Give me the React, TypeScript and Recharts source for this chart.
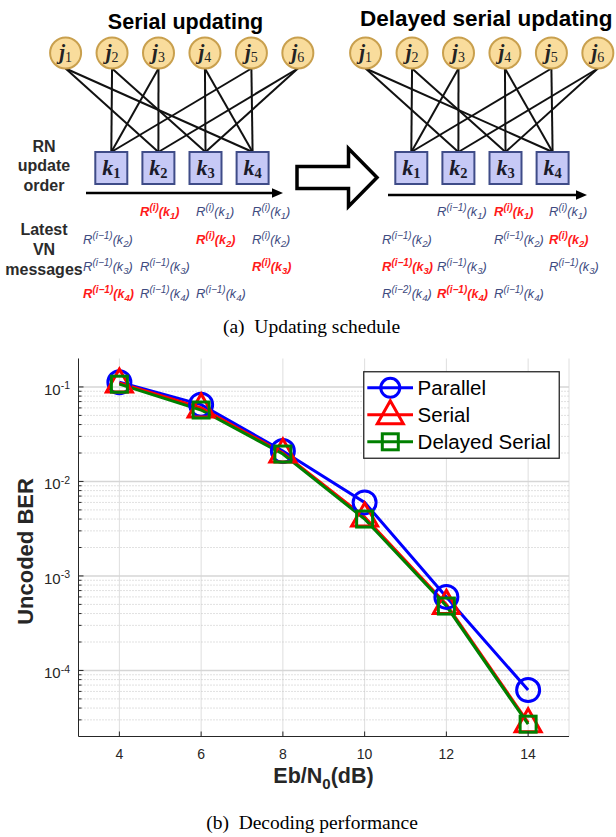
import React from 'react';
import { LineChart, Line, XAxis, YAxis, CartesianGrid, ReferenceLine, Legend } from 'recharts';

// ---------------- chart data ----------------
const snrDb = [4, 6, 8, 10, 12, 14];
const berParallel = [0.112, 0.065, 0.021, 0.006, 0.0006, 0.000062];
const berSerial = [0.11, 0.06, 0.02, 0.0042, 0.0005, 0.000028];
const berDelayedSerial = [0.107, 0.057, 0.0195, 0.004, 0.00048, 0.000027];

const seriesNames = ['Parallel', 'Serial', 'Delayed Serial'];
const seriesKeys = ['parallel', 'serial', 'delayed'];
const seriesColors = ['#0000ff', '#ff0000', '#008000'];
const seriesMarkers = ['circle', 'triangle', 'square'];

const xTicks = [4, 6, 8, 10, 12, 14];
const xDomain = [3, 15];
const yDomain = [2e-5, 0.2];
const yMajorTicks = [1e-4, 1e-3, 1e-2, 1e-1];
const yMajorExponents = ['-4', '-3', '-2', '-1'];
const yMinorTicks = [
  3e-5, 4e-5, 5e-5, 6e-5, 7e-5, 8e-5, 9e-5,
  2e-4, 3e-4, 4e-4, 5e-4, 6e-4, 7e-4, 8e-4, 9e-4,
  2e-3, 3e-3, 4e-3, 5e-3, 6e-3, 7e-3, 8e-3, 9e-3,
  2e-2, 3e-2, 4e-2, 5e-2, 6e-2, 7e-2, 8e-2, 9e-2,
];
const yAllTicks = [...yMinorTicks, ...yMajorTicks].sort((a, b) => a - b);

const xAxisTitle = 'Eb/N';
const xAxisTitleSub = '0';
const xAxisTitleTail = '(dB)';
const yAxisTitle = 'Uncoded BER';
const captionA = '(a)\u00A0\u00A0Updating schedule';
const captionB = '(b)\u00A0\u00A0Decoding performance';

// ---------------- diagram data ----------------
const diagramTitles = ['Serial updating', 'Delayed serial updating'];
const userNodes = ['1', '2', '3', '4', '5', '6'];
const resourceNodes = ['1', '2', '3', '4'];
// [user index, resource index]
const factorEdges: [number, number][] = [
  [1, 0], [2, 0], [4, 0],
  [0, 1], [2, 1], [5, 1],
  [1, 2], [3, 2], [5, 2],
  [0, 3], [3, 3], [4, 3],
];
const orderLabel = ['RN', 'update', 'order'];
const messagesLabel = ['Latest', 'VN', 'messages'];
// per column: [row (k index), superscript, highlighted]
type Msg = [number, string, boolean];
const serialMessages: Msg[][] = [
  [[1, 'i\u22121', false], [2, 'i\u22121', false], [3, 'i\u22121', true]],
  [[0, 'i', true], [2, 'i\u22121', false], [3, 'i\u22121', false]],
  [[0, 'i', false], [1, 'i', true], [3, 'i\u22121', false]],
  [[0, 'i', false], [1, 'i', false], [2, 'i', true]],
];
const delayedMessages: Msg[][] = [
  [[1, 'i\u22121', false], [2, 'i\u22121', true], [3, 'i\u22122', false]],
  [[0, 'i\u22121', false], [2, 'i\u22121', false], [3, 'i\u22121', true]],
  [[0, 'i', true], [1, 'i\u22121', false], [3, 'i\u22121', false]],
  [[0, 'i', false], [1, 'i', true], [2, 'i\u22121', false]],
];

const rows = snrDb.map((x, i) => ({
  snr: x,
  parallel: berParallel[i],
  serial: berSerial[i],
  delayed: berDelayedSerial[i],
}));

const SANS = "'Liberation Sans', Arial, Helvetica, sans-serif";
const SERIF = "'Liberation Serif', 'Times New Roman', serif";
const AXIS_COLOR = '#262626';
const Y_TICK_MARGIN = 8.5;

function Marker({ kind, cx, cy, color, small }: { kind: string; cx: number; cy: number; color: string; small?: boolean }) {
  if (cx == null || cy == null || isNaN(cx) || isNaN(cy)) return null;
  if (kind === 'circle') {
    return <circle cx={cx} cy={cy} r={small ? 9.5 : 11.5} fill="none" stroke={color} strokeWidth={3} />;
  }
  if (kind === 'triangle') {
    const pts = `${cx},${cy - 14} ${cx - 13},${cy + 9} ${cx + 13},${cy + 9}`;
    return <polygon points={pts} fill="none" stroke={color} strokeWidth={3} strokeLinejoin="miter" />;
  }
  return <rect x={cx - 8} y={cy - 8} width={16} height={16} fill="none" stroke={color} strokeWidth={3} />;
}

const LeftTick = (props: any) => {
  const { x, y, payload } = props;
  const v = payload.value;
  const mi = yMajorTicks.indexOf(v);
  const ax = x + Y_TICK_MARGIN;
  return (
    <g>
      <line x1={ax} x2={ax + (mi >= 0 ? 5 : 3)} y1={y} y2={y} stroke={AXIS_COLOR} strokeWidth={1} />
      {mi >= 0 && (
        <text x={x} y={y + 8} textAnchor="end" fontFamily={SANS} fill={AXIS_COLOR}>
          <tspan fontSize={15}>10</tspan>
          <tspan fontSize={10.5} dy={-5.5}>{yMajorExponents[mi]}</tspan>
        </text>
      )}
    </g>
  );
};

const RightTick = (props: any) => {
  const { x, y, payload } = props;
  const isMajor = yMajorTicks.indexOf(payload.value) >= 0;
  return <line x1={x} x2={x - (isMajor ? 5 : 3)} y1={y} y2={y} stroke={AXIS_COLOR} strokeWidth={1} />;
};

const BottomTick = (props: any) => {
  const { x, y, payload } = props;
  return (
    <g>
      <line x1={x} x2={x} y1={y} y2={y - 5} stroke={AXIS_COLOR} strokeWidth={1} />
      <text x={x} y={y + 22.5} textAnchor="middle" fontFamily={SANS} fontSize={14} fill={AXIS_COLOR}>
        {payload.value}
      </text>
    </g>
  );
};

const TopTick = (props: any) => {
  const { x, y } = props;
  return <line x1={x} x2={x} y1={y} y2={y + 5} stroke={AXIS_COLOR} strokeWidth={1} />;
};

const LegendBox = () => {
  const w = 197;
  const h = 88;
  return (
    <svg width={w} height={h} style={{ display: 'block' }}>
      <rect x={0.75} y={0.75} width={w - 1.5} height={h - 1.5} fill="#ffffff" stroke={AXIS_COLOR} strokeWidth={1.3} />
      {seriesNames.map((name, i) => {
        const cy = 16.8 + 27 * i;
        return (
          <g key={name}>
            <line x1={4.3} x2={50} y1={cy} y2={cy} stroke={seriesColors[i]} strokeWidth={3} />
            <Marker kind={seriesMarkers[i]} cx={27.3} cy={cy} color={seriesColors[i]} small />
            <text x={54.6} y={cy + 7.5} fontFamily={SANS} fontSize={20.5} fill="#000">
              {name}
            </text>
          </g>
        );
      })}
    </svg>
  );
};

function MessageLabel({ x, y, sup, k, red }: { x: number; y: number; sup: string; k: string; red: boolean }) {
  return (
    <text
      x={x}
      y={y}
      fontFamily={SANS}
      fontStyle="italic"
      fontWeight={red ? 'bold' : 'normal'}
      fill={red ? '#ff1a1a' : '#3d4a80'}
    >
      <tspan fontSize={13}>R</tspan>
      <tspan fontSize={10} dy={-5}>({sup})</tspan>
      <tspan fontSize={12.5} dy={5}>(k</tspan>
      <tspan fontSize={9.5} dy={3}>{k}</tspan>
      <tspan fontSize={12.5} dy={-3}>)</tspan>
    </text>
  );
}

function DiagramGroup({ g }: { g: number }) {
  const ox = g * 300;
  const ux = (i: number) => ox + 65.6 + 46.45 * i;
  const uy = 53;
  const rx = (i: number) => ox + 111.3 + 47.1 * i;
  const ry = 168;
  const colX = g === 0 ? [83, 140, 196, 252] : [382, 437, 494, 549];
  const rowY = [216, 243.5, 271, 297.5];
  const msgs = g === 0 ? serialMessages : delayedMessages;
  const arrowY = g === 0 ? 193 : 195;
  const arrowX0 = g === 0 ? 86 : 388;
  const arrowX1 = g === 0 ? 283 : 587;
  return (
    <g>
      {factorEdges.map(([u, r], i) => (
        <line key={i} x1={ux(u)} y1={uy + 15.5} x2={rx(r)} y2={ry - 16} stroke="#111" strokeWidth={2} />
      ))}
      {userNodes.map((n, i) => (
        <g key={'u' + i}>
          <circle cx={ux(i)} cy={uy} r={15.5} fill="#f9dc9c" stroke="#c9a04e" strokeWidth={2} />
          <text x={ux(i)} y={uy + 6} textAnchor="middle" fontFamily={SERIF} fill="#222">
            <tspan fontSize={21} fontStyle="italic" fontWeight="bold">j</tspan>
            <tspan fontSize={14} dy={3}>{n}</tspan>
          </text>
        </g>
      ))}
      {resourceNodes.map((n, i) => (
        <g key={'r' + i}>
          <rect x={rx(i) - 16} y={ry - 16} width={32} height={32} fill="#c6c9f6" stroke="#3f4c88" strokeWidth={2} />
          <text x={rx(i)} y={ry + 7} textAnchor="middle" fontFamily={SERIF} fill="#1a1a2a">
            <tspan fontSize={22} fontStyle="italic" fontWeight="bold">k</tspan>
            <tspan fontSize={14.5} fontWeight="bold" dy={3}>{n}</tspan>
          </text>
        </g>
      ))}
      <line x1={arrowX0} x2={arrowX1 - 10} y1={arrowY} y2={arrowY} stroke="#000" strokeWidth={2.5} />
      <polygon points={`${arrowX1 - 11},${arrowY - 4.8} ${arrowX1},${arrowY} ${arrowX1 - 11},${arrowY + 4.8}`} fill="#000" />
      {msgs.map((col, c) =>
        col.map(([row, sup, red], j) => (
          <MessageLabel key={`${c}-${j}`} x={colX[c]} y={rowY[row]} sup={sup} k={resourceNodes[row]} red={red} />
        ))
      )}
    </g>
  );
}

function Overlay() {
  return (
    <svg width={616} height={837} style={{ position: 'absolute', left: 0, top: 0, pointerEvents: 'none' }}>
      <text x={185.5} y={28.5} textAnchor="middle" fontFamily={SANS} fontWeight="bold" fontSize={21.5} fill="#000">
        {diagramTitles[0]}
      </text>
      <text x={360} y={25.5} fontFamily={SANS} fontWeight="bold" fontSize={22.5} fill="#000">
        {diagramTitles[1]}
      </text>
      <DiagramGroup g={0} />
      <DiagramGroup g={1} />
      {orderLabel.map((t, i) => (
        <text key={t} x={44} y={151.5 + 19.5 * i} textAnchor="middle" fontFamily={SANS} fontWeight="bold" fontSize={16} fill="#2b2b2b">
          {t}
        </text>
      ))}
      {messagesLabel.map((t, i) => (
        <text key={t} x={44} y={235 + 20 * i} textAnchor="middle" fontFamily={SANS} fontWeight="bold" fontSize={16} fill="#2b2b2b">
          {t}
        </text>
      ))}
      <polygon
        points="297,166.5 348.5,166.5 348.5,148.5 377,177.5 348.5,206.5 348.5,188.5 297,188.5"
        fill="#fff"
        stroke="#000"
        strokeWidth={3.5}
        strokeLinejoin="miter"
      />
      <text x={311.5} y={333} textAnchor="middle" fontFamily={SERIF} fontSize={19.5} fill="#000">
        {captionA}
      </text>
      <text x={33} y={551.5} transform="rotate(-90 33 551.5)" textAnchor="middle" fontFamily={SANS} fontWeight="bold" fontSize={22} fill={AXIS_COLOR}>
        {yAxisTitle}
      </text>
      <text x={323.5} y={782.5} textAnchor="middle" fontFamily={SANS} fontWeight="bold" fontSize={21.5} fill={AXIS_COLOR}>
        <tspan>{xAxisTitle}</tspan>
        <tspan fontSize={15} dy={6}>{xAxisTitleSub}</tspan>
        <tspan dy={-6}>{xAxisTitleTail}</tspan>
      </text>
      <text x={312} y={828.5} textAnchor="middle" fontFamily={SERIF} fontSize={19.5} fill="#000">
        {captionB}
      </text>
    </svg>
  );
}

export default function App() {
  return (
    <div style={{ position: 'absolute', left: 0, top: 0, width: 616, height: 837, background: '#fff' }}>
      <LineChart width={616} height={837} data={rows} margin={{ top: 358.5, right: 47, bottom: 70.5, left: 0 }}>
        <CartesianGrid xAxisId="main" yAxisId="main" horizontal={false} vertical stroke="#dedede" strokeWidth={1} />
        {yMinorTicks.map((v) => (
          <ReferenceLine key={'mn' + v} y={v} xAxisId="main" yAxisId="main" stroke="#c2c2c2" strokeDasharray="1 2" strokeWidth={1} />
        ))}
        {yMajorTicks.map((v) => (
          <ReferenceLine key={'mj' + v} y={v} xAxisId="main" yAxisId="main" stroke="#d6d6d6" strokeWidth={1.5} />
        ))}
        {seriesKeys.map((k, i) => (
          <Line
            key={k}
            xAxisId="main"
            yAxisId="main"
            dataKey={k}
            name={seriesNames[i]}
            type="linear"
            stroke={seriesColors[i]}
            strokeWidth={3}
            isAnimationActive={false}
            dot={(p: any) => (
              <Marker key={`${k}-${p.index}`} kind={seriesMarkers[i]} cx={p.cx} cy={p.cy} color={seriesColors[i]} />
            )}
            activeDot={false}
          />
        ))}
        <XAxis
          xAxisId="main"
          dataKey="snr"
          type="number"
          domain={xDomain}
          ticks={xTicks}
          interval={0}
          allowDataOverflow
          height={30}
          tickSize={0}
          tickMargin={0}
          tickLine={false}
          axisLine={{ stroke: AXIS_COLOR, strokeWidth: 1 }}
          tick={BottomTick}
        />
        <XAxis
          xAxisId="top"
          orientation="top"
          dataKey="snr"
          type="number"
          domain={xDomain}
          ticks={xTicks}
          interval={0}
          allowDataOverflow
          height={0}
          tickSize={0}
          tickMargin={0}
          tickLine={false}
          axisLine={{ stroke: AXIS_COLOR, strokeWidth: 1 }}
          tick={TopTick}
        />
        <YAxis
          yAxisId="main"
          scale="log"
          type="number"
          domain={yDomain}
          ticks={yAllTicks}
          interval={0}
          allowDataOverflow
          width={78.5}
          tickSize={0}
          tickMargin={Y_TICK_MARGIN}
          tickLine={false}
          axisLine={{ stroke: AXIS_COLOR, strokeWidth: 1 }}
          tick={LeftTick}
        />
        <YAxis
          yAxisId="right"
          orientation="right"
          scale="log"
          type="number"
          domain={yDomain}
          ticks={yAllTicks}
          interval={0}
          allowDataOverflow
          width={0}
          tickSize={0}
          tickMargin={0}
          tickLine={false}
          axisLine={{ stroke: AXIS_COLOR, strokeWidth: 1 }}
          tick={RightTick}
        />
        <Legend
          layout="vertical"
          align="center"
          verticalAlign="middle"
          content={LegendBox}
          wrapperStyle={{ position: 'absolute', left: 362.7, top: 370.7, width: 197, height: 88 }}
        />
      </LineChart>
      <Overlay />
    </div>
  );
}
